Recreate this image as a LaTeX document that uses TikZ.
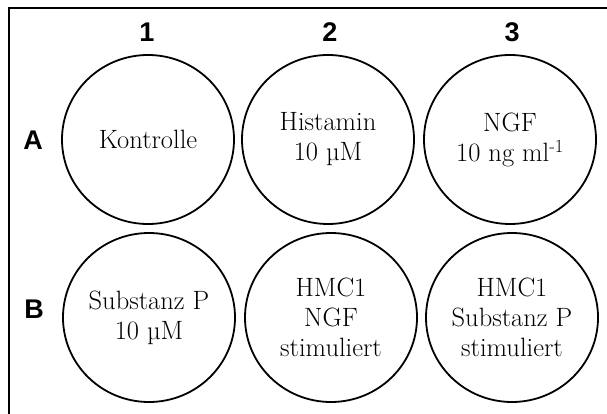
\documentclass[tikz,border=0pt]{standalone}
\usepackage{fontspec}
\newfontfamily\labfont{Liberation Sans}
\usetikzlibrary{shapes.geometric}
\tikzset{
  well/.style={ellipse, draw=black, line width=1.8pt, minimum width=172pt, minimum height=169pt, inner sep=0pt, align=center, font=\fontsize{26.5}{30}\selectfont},
  lab/.style={font=\labfont\bfseries\fontsize{27}{30}\selectfont, inner sep=0pt},
  frame/.style={line width=2pt}
}
\begin{document}
\begin{tikzpicture}[x=1pt,y=-1pt]
\useasboundingbox[fill=white] (0,0) rectangle (607,414);
\coordinate (fb) at (9,414);
\coordinate (fc) at (9,8);
\coordinate (fr) at (607,8);
\draw[frame] (fb) -- (fc) -- (fr);
\node[lab] (c1) at (147,32) {1};
\node[lab] (c2) at (330,32) {2};
\node[lab] (c3) at (512,32) {3};
\node[lab] (rA) at (33,140) {A};
\node[lab] (rB) at (34,309) {B};
\node[well] (a1) at (148,139.5) {Kontrolle};
\node[well] (a2) at (328,139.5) {Histamin\\10 µM};
\node[well] (a3) at (510,139.5) {NGF\\10 ng ml\textsuperscript{-1}};
\node[well] (b1) at (149,317.5) {Substanz P\\10 µM};
\node[well] (b2) at (331,317.5) {HMC1\\NGF\\stimuliert};
\node[well] (b3) at (512,317.5) {HMC1\\Substanz P\\stimuliert};
\end{tikzpicture}
\end{document}
